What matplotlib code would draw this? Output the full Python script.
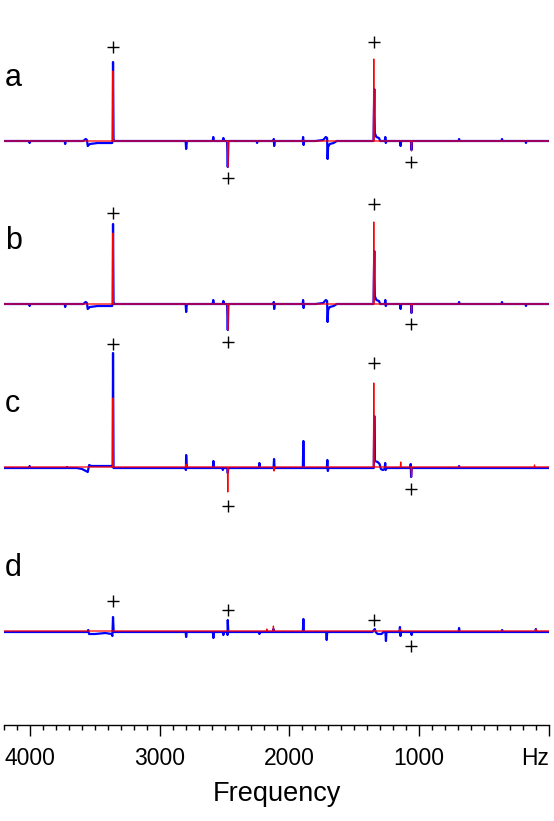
import matplotlib
matplotlib.use("Agg")
import matplotlib.pyplot as plt
from matplotlib.ticker import FixedLocator, MultipleLocator

plt.rcParams['font.family'] = ['Liberation Sans', 'DejaVu Sans']

# ---------------- data (frequency in Hz, intensity in arbitrary units) ----------------
panel_labels = ['a', 'b', 'c', 'd']
panel_offsets = [584, 421, 258, 94]

tick_values = [4000, 3000, 2000, 1000, 0]
tick_labels = ['4000', '3000', '2000', '1000', 'Hz']

a_blue = [(4200, 0), (4008, 0), (4004, -2), (4000, 0), (3734, 0), (3730, -3), (3726, 0),
          (3590, 0), (3572, 2), (3562, 1), (3556, -5), (3540, -3), (3480, -2), (3368, -2),
          (3364, 0), (3361, 79), (3357, 2), (3352, 0), (2801, 0), (2797, -8), (2792, -1),
          (2785, 0), (2592, 0), (2588, 4), (2583, 0), (2514, 0), (2510, 3), (2506, 0),
          (2481, 0), (2476, -26), (2471, 0), (2254, 0), (2250, -2), (2246, 0), (2124, 0),
          (2121, 2), (2118, -5), (2114, 0), (1898, 0), (1895, 4), (1891, -4), (1887, 0),
          (1800, 0), (1740, 1), (1720, 4), (1710, 3), (1706, -18), (1702, -6), (1690, -3),
          (1660, -2), (1635, 0), (1352, 0), (1346, 52), (1342, 8), (1330, 4), (1310, 3),
          (1300, 0), (1265, 0), (1261, 4), (1257, -2), (1252, 0), (1147, 0), (1143, -5),
          (1139, 0), (1063, 0), (1059, -9), (1055, 0), (696, 0), (692, 2), (688, 0),
          (365, 0), (361, 2), (357, 0), (180, 0), (176, -2), (172, 0), (0, 0)]
a_red = [(4200, 0), (3364, 0), (3361, 70), (3358, 0), (2479, 0), (2476, -26), (2473, 0),
         (1353, 0), (1350, 82), (1347, 0), (1062, 0), (1059, -10), (1056, 0), (0, 0)]

b_blue = [(4200, 0), (4008, 0), (4004, -2), (4000, 0), (3734, 0), (3730, -3), (3726, 0),
          (3590, 0), (3572, 2), (3562, 1), (3556, -5), (3540, -3), (3480, -2), (3368, -2),
          (3364, 0), (3361, 80), (3357, 2), (3352, 0), (2801, 0), (2797, -8), (2792, -1),
          (2785, 0), (2592, 0), (2588, 4), (2583, 0), (2514, 0), (2510, 3), (2506, 0),
          (2481, 0), (2476, -26), (2471, 0), (2124, 0), (2121, 2), (2118, -5), (2114, 0),
          (1898, 0), (1895, 4), (1891, -4), (1887, 0), (1800, 0), (1740, 1), (1720, 4),
          (1710, 3), (1706, -18), (1702, -6), (1690, -3), (1660, -2), (1635, 0), (1352, 0),
          (1346, 53), (1342, 8), (1330, 4), (1310, 3), (1300, 0), (1265, 0), (1261, 4),
          (1257, -2), (1252, 0), (1147, 0), (1143, -5), (1139, 0), (1063, 0), (1059, -9),
          (1055, 0), (696, 0), (692, 2), (688, 0), (365, 0), (361, 2), (357, 0), (180, 0),
          (176, -2), (172, 0), (0, 0)]
b_red = [(4200, 0), (3364, 0), (3361, 71), (3358, 0), (2479, 0), (2476, -26), (2473, 0),
         (1353, 0), (1350, 82), (1347, 0), (1062, 0), (1059, -9), (1056, 0), (0, 0)]

c_blue = [(4200, -1), (4008, -1), (4004, 1), (4000, -1), (3720, -1), (3716, 0), (3712, -1),
          (3640, -1), (3600, -2), (3570, -4), (3556, -5), (3545, 2), (3530, 1), (3368, 1),
          (3364, 0), (3361, 114), (3357, -1), (2801, -1), (2799, -3), (2797, 12), (2792, -1),
          (2591, -1), (2587, 6), (2583, -1), (2518, -1), (2514, -3), (2510, -1), (2480, -1),
          (2476, -6), (2472, -1), (2236, -1), (2232, 4), (2228, -1), (2123, -1), (2119, 8),
          (2115, -1), (1897, -1), (1893, 26), (1889, -1), (1712, -1), (1708, 7), (1704, -4),
          (1700, -1), (1350, -1), (1346, 51), (1341, 6), (1320, 5), (1305, 3), (1295, -2),
          (1280, -3), (1266, -2), (1262, 4), (1258, -3), (1250, -1), (1068, -1), (1065, 3),
          (1062, -10), (1057, -1), (696, -1), (692, 1), (688, -1), (0, -1)]
c_red = [(4200, 0), (3364, 0), (3361, 69), (3358, 0), (2800, 0), (2797, 3), (2794, 0),
         (2479, 0), (2476, -25), (2473, 0), (2122, 0), (2119, -4), (2116, 0), (1353, 0),
         (1350, 84), (1347, 0), (1145, 0), (1142, 5), (1139, 0), (1062, 0), (1059, -10),
         (1056, 0), (113, 0), (110, 2), (107, 0), (0, 0)]

d_blue = [(4200, -1), (3560, -1), (3552, 1), (3546, -3), (3500, -3), (3420, -2), (3372, -3),
          (3366, -5), (3361, 14), (3356, -1), (2801, -1), (2797, -6), (2793, -1), (2591, -1),
          (2587, -7), (2583, -1), (2514, -1), (2510, -4), (2506, -1), (2480, -1), (2478, -4),
          (2476, 11), (2472, -1), (2236, -1), (2232, -3), (2228, -1), (2127, -1), (2124, 2),
          (2120, -1), (1897, -1), (1893, 12), (1889, -1), (1717, -1), (1713, -9), (1709, -1),
          (1360, -1), (1342, 2), (1335, -1), (1320, -3), (1290, -3), (1275, -1), (1260, -1),
          (1256, -10), (1252, -1), (1152, -1), (1148, 4), (1144, -5), (1140, -1), (1062, -1),
          (1058, -4), (1054, -1), (696, -1), (692, 3), (688, -1), (364, -1), (360, 1),
          (356, -1), (104, -1), (100, 2), (96, -1), (0, -1)]
d_red = [(4200, 0), (2178, 0), (2175, 2), (2172, 0), (2127, 0), (2124, 5), (2121, 0),
         (1151, 0), (1148, 2), (1145, 0), (103, 0), (100, 2), (97, 0), (0, 0)]

blue_series = [a_blue, b_blue, c_blue, d_blue]
red_series = [a_red, b_red, c_red, d_red]

marker_hz = [3361, 1346, 2476, 1059]
a_marks = [94, 99, -37, -21]
b_marks = [91, 100, -38, -20]
c_marks = [123, 104, -39, -22]
d_marks = [30, 11, 21, -15]
mark_series = [a_marks, b_marks, c_marks, d_marks]

# ---------------- figure ----------------
W, H = 554, 821
fig = plt.figure(figsize=(W / 100, H / 100), dpi=100)
ax = fig.add_axes([4.24 / W, 96 / H, 544.56 / W, 725 / H])
ax.set_xlim(4200, 0)
ax.set_ylim(0, 725)

for lab, off, blue, red, marks in zip(panel_labels, panel_offsets, blue_series,
                                      red_series, mark_series):
    bx = [p[0] for p in blue]
    by = [p[1] + off for p in blue]
    rx = [p[0] for p in red]
    ry = [p[1] + off for p in red]
    ax.plot(bx, by, color='#0000ff', lw=1.6, zorder=2)
    ax.plot(rx, ry, color='#ff0000', lw=0.9, zorder=3)
    ax.plot(marker_hz, [m + off for m in marks], linestyle='none', marker='+',
            ms=8, mew=1.0, color='black', zorder=4, clip_on=False)
    ax.text(4193, off + 55, lab, fontsize=22, ha='left', va='baseline')

for s in ['left', 'right', 'top']:
    ax.spines[s].set_visible(False)
ax.spines['bottom'].set_linewidth(1.0)
ax.set_yticks([])

ax.xaxis.set_major_locator(FixedLocator(tick_values))
ax.set_xticklabels(tick_labels)
ax.xaxis.set_minor_locator(MultipleLocator(100))
ax.tick_params(axis='x', which='major', length=8, width=1.0, direction='out',
               labelsize=16.5, pad=8)
ax.tick_params(axis='x', which='minor', length=3.5, width=1.0, direction='out')
ax.get_xticklabels()[-1].set_ha('right')
ax.set_xlabel('Frequency', fontsize=19.5, labelpad=8)

fig.savefig('out.png', dpi=100)
